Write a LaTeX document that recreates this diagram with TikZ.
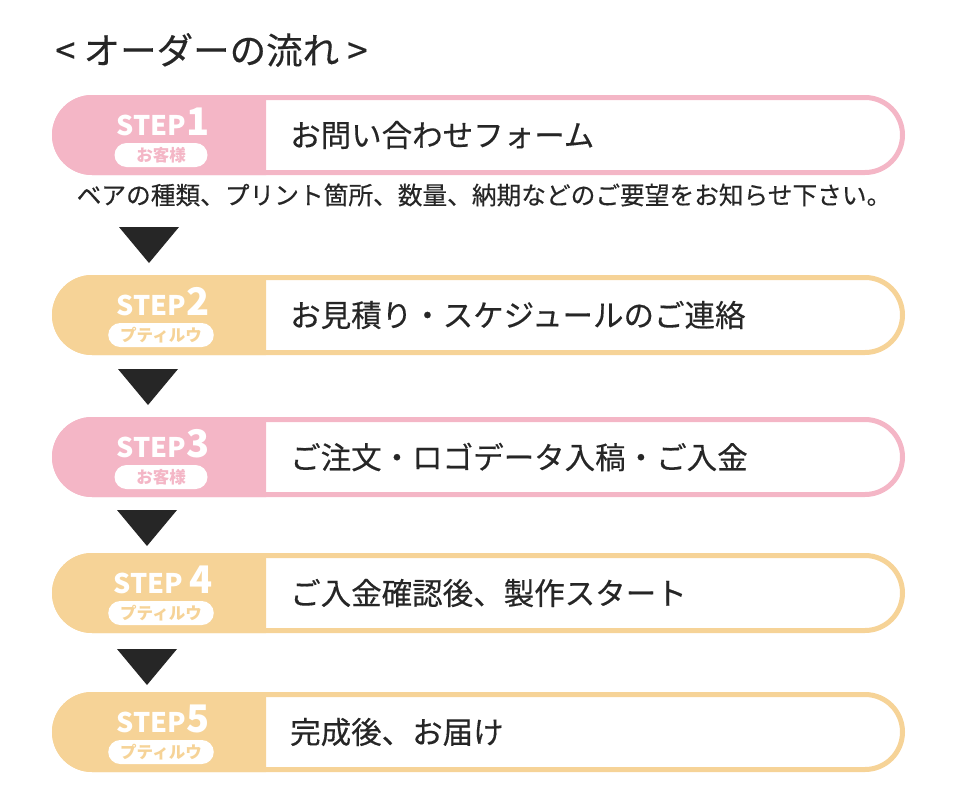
\documentclass[tikz,border=0pt]{standalone}
\usepackage{fontspec}
\setmainfont{Noto Sans CJK JP}
\newfontfamily\midfont{Noto Sans CJK JP}[FakeBold=0.35]
\usetikzlibrary{positioning}

\definecolor{stepPink}{HTML}{F4B6C6}
\definecolor{stepGold}{HTML}{F6D397}
\definecolor{inkGray}{HTML}{262626}

\tikzset{
  pill/.style={line width=5pt, rounded corners=37.5pt},
  steplabel/.style={text=white, font=\bfseries\fontsize{27}{27}\selectfont, anchor=base, inner sep=0pt},
  badge/.style={fill=white, rounded corners=12pt, minimum height=24pt, minimum width=93pt,
    inner xsep=12pt, inner ysep=0pt, font=\bfseries\fontsize{16.5}{16.5}\selectfont},
  stepbody/.style={anchor=west, text=inkGray, font=\midfont\fontsize{30.5}{30.5}\selectfont, inner sep=0pt},
  downarrow/.style={fill=inkGray},
}

\begin{document}
\begin{tikzpicture}[x=1pt, y=-1pt]
  \useasboundingbox (0,0) rectangle (980,811);

  % title
  \node[anchor=west, inner sep=0pt, text=inkGray, font=\midfont\fontsize{36.5}{36.5}\selectfont] (title) at (55,50) {< オーダーの流れ >};

  % steps
  \foreach \cy/\col/\sep/\num/\who/\body [count=\i] in {
      135/stepPink/{}/1/お客様/お問い合わせフォーム,
      315/stepGold/{}/2/プティルウ/お見積り・スケジュールのご連絡,
      457/stepPink/{}/3/お客様/ご注文・ロゴデータ入稿・ご入金,
      593/stepGold/{\ }/4/プティルウ/ご入金確認後、製作スタート,
      732/stepGold/{}/5/プティルウ/完成後、お届け} {
    \draw[pill, draw=\col] (54.5,\cy-37.5) rectangle (902.5,\cy+37.5);
    \fill[\col] (266,\cy-40) -- (92,\cy-40) arc[start angle=90, end angle=270, radius=40pt] -- (266,\cy+40) -- cycle;
    \node[steplabel] (lab\i) at (163,\cy) {STEP\sep{\fontsize{38}{38}\selectfont\num}};
    \node[badge, text=\col] (who\i) at (161,\cy+20) {\who};
    \node[stepbody] (body\i) at (290,\cy) {\body};
  }

  % note under step 1
  \node[inner sep=0pt, text=inkGray, font=\midfont\fontsize{24.7}{24.7}\selectfont] (note) at (484,195)
    {ベアの種類、プリント箇所、数量、納期などのご要望をお知らせ下さい。};

  % arrows
  \fill[downarrow] (119,227) -- (179,227) -- (149,263) -- cycle;
  \fill[downarrow] (118,369) -- (178,369) -- (148,405) -- cycle;
  \fill[downarrow] (117,510) -- (177,510) -- (147,546) -- cycle;
  \fill[downarrow] (117,649) -- (177,649) -- (147,685) -- cycle;
\end{tikzpicture}
\end{document}
